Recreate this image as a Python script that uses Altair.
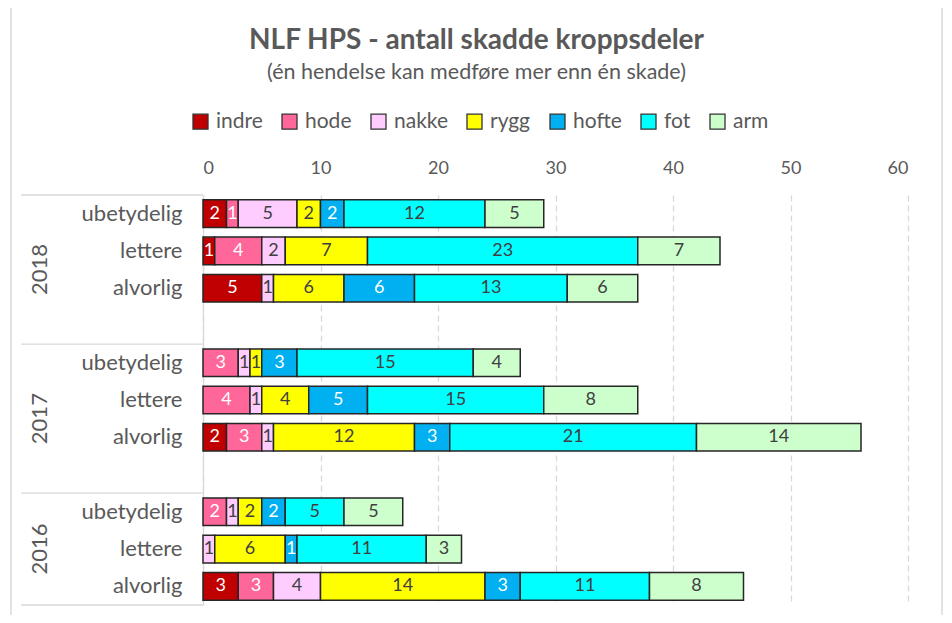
import altair as alt
import pandas as pd

years = ["2018", "2017", "2016"]
severities = ["ubetydelig", "lettere", "alvorlig"]
parts = ["indre", "hode", "nakke", "rygg", "hofte", "fot", "arm"]
colors = ["#C00000", "#FF6699", "#FFCCFF", "#FFFF00", "#00B0F0", "#00FFFF", "#CCFFCC"]

# rows: 2018 ubetydelig, lettere, alvorlig, 2017 ..., 2016 ...
indre = [2, 1, 5, 0, 0, 2, 0, 0, 3]
hode = [1, 4, 0, 3, 4, 3, 2, 0, 3]
nakke = [5, 2, 1, 1, 1, 1, 1, 1, 4]
rygg = [2, 7, 6, 1, 4, 12, 2, 6, 14]
hofte = [2, 0, 6, 3, 5, 3, 2, 1, 3]
fot = [12, 23, 13, 15, 15, 21, 5, 11, 11]
arm = [5, 7, 6, 4, 8, 14, 5, 3, 8]
x_ticks = [0, 10, 20, 30, 40, 50, 60]

series = [indre, hode, nakke, rygg, hofte, fot, arm]
row_keys = [f"{y} {s}" for y in years for s in severities]

rows = []
for pi, (p, vals) in enumerate(zip(parts, series)):
    for k, v in zip(row_keys, vals):
        rows.append({"key": k, "part": p, "order": pi, "value": v})
df = pd.DataFrame(rows)

# y domain with spacer slots between year groups
domain = []
bounds = [0]
centers = []
for i, y in enumerate(years):
    start = len(domain)
    domain += [f"{y} {s}" for s in severities]
    if i < len(years) - 1:
        domain.append(f"gap{i}")
    bounds.append(len(domain))
    centers.append((start + len(domain)) / 2)
nslots = len(domain)
year_df = pd.DataFrame({"year": years, "pos": centers})
bound_df = pd.DataFrame({"pos": bounds})

FONT = "Lato"
GRAY = "#595959"

yscale = alt.Scale(domain=domain, paddingInner=0.26, paddingOuter=0.13)
xscale = alt.Scale(domain=[0, 60], nice=False)

base = (
    alt.Chart(df)
    .transform_filter("datum.value > 0")
    .transform_stack(stack="value", groupby=["key"], sort=[{"field": "order"}], as_=["x0", "x1"])
    .transform_calculate(mid="(datum.x0 + datum.x1) / 2")
)

bars = base.mark_bar(stroke="#262626", strokeWidth=1.5).encode(
    x=alt.X(
        "x0:Q",
        scale=xscale,
        axis=alt.Axis(
            orient="top", values=x_ticks, grid=True, gridDash=[6, 4], gridColor="#D9D9D9",
            gridWidth=1.3, domain=False, ticks=False, labelFontSize=18, labelColor=GRAY,
            labelFont=FONT, labelPadding=18, title=None,
        ),
    ),
    x2="x1:Q",
    y=alt.Y(
        "key:N",
        scale=yscale,
        axis=alt.Axis(
            labelExpr="slice(datum.value, 5)", ticks=False, domain=True, domainColor="#D9D9D9",
            domainWidth=1.3, labelFontSize=22, labelColor=GRAY, labelFont=FONT,
            labelPadding=21, title=None,
        ),
    ),
    color=alt.Color(
        "part:N",
        scale=alt.Scale(domain=parts, range=colors),
        legend=alt.Legend(
            orient="none", legendX=-13, legendY=-84, direction="horizontal", columns=7,
            title=None, labelFontSize=21, labelColor=GRAY, labelFont=FONT,
            symbolType="square", symbolSize=225, symbolStrokeColor="#333333",
            symbolStrokeWidth=1.3, columnPadding=16, labelOffset=5,
        ),
    ),
)

light_parts = ["indre", "hode", "hofte"]
txt_white = base.transform_filter(
    alt.FieldOneOfPredicate(field="part", oneOf=light_parts)
).mark_text(font=FONT, fontSize=18, color="white").encode(
    x=alt.X("mid:Q", scale=xscale),
    y=alt.Y("key:N", scale=yscale),
    text="value:Q",
)
txt_dark = base.transform_filter(
    ~alt.FieldOneOfPredicate(field="part", oneOf=light_parts)
).mark_text(font=FONT, fontSize=18, color="#404040").encode(
    x=alt.X("mid:Q", scale=xscale),
    y=alt.Y("key:N", scale=yscale),
    text="value:Q",
)

main = alt.layer(bars, txt_white, txt_dark)

pscale = alt.Scale(domain=[0, nslots], reverse=True, nice=False, zero=False)
year_text = alt.Chart(year_df).mark_text(
    font=FONT, fontSize=22, color=GRAY, angle=270, baseline="middle", align="center"
).encode(
    x=alt.value(-163),
    y=alt.Y("pos:Q", scale=pscale, axis=None),
    text="year:N",
)
sep_rules = alt.Chart(bound_df).mark_rule(color="#D9D9D9", strokeWidth=1.3).encode(
    x=alt.value(-182), x2=alt.value(0),
    y=alt.Y("pos:Q", scale=pscale, axis=None),
)
frame = alt.Chart(pd.DataFrame({"a": [0]})).mark_rect(
    fillOpacity=0, stroke="#D9D9D9", strokeWidth=1.5
).encode(
    x=alt.value(-192), x2=alt.value(739), y=alt.value(-190), y2=alt.value(440)
)

chart = (
    alt.layer(frame, main, sep_rules, year_text)
    .resolve_scale(y="independent")
    .properties(
        width=705,
        height=410,
        autosize=alt.AutoSizeParams(type="none"),
        padding={"left": 195, "top": 187, "right": 36, "bottom": 10},
        title=alt.Title(
            "NLF HPS - antall skadde kroppsdeler",
            subtitle="(én hendelse kan medføre mer enn én skade)",
            anchor="middle", frame="group", dx=-79, offset=-79,
            font=FONT, fontSize=28, fontWeight="bold", color=GRAY,
            subtitleFont=FONT, subtitleFontSize=21.5, subtitleColor=GRAY, subtitlePadding=7,
        ),
    )
    .configure_view(stroke=None)
)

chart.save("out.html", embed_options={"renderer": "svg", "actions": False})
